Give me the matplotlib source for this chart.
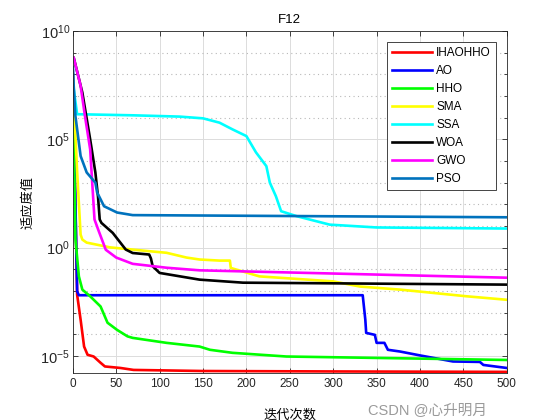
import numpy as np
import matplotlib
matplotlib.use('Agg')
import matplotlib.pyplot as plt
from matplotlib.ticker import FixedLocator, NullFormatter

plt.rcParams['font.family'] = ['Liberation Sans', 'Noto Sans CJK SC', 'DejaVu Sans']
plt.rcParams['mathtext.fontset'] = 'custom'
plt.rcParams['mathtext.rm'] = 'Liberation Sans'
plt.rcParams['mathtext.it'] = 'Liberation Sans'

# 各算法收敛曲线 (迭代次数, log10 适应度值)
names = ['IHAOHHO', 'AO', 'HHO', 'SMA', 'SSA', 'WOA', 'GWO', 'PSO']
colors = ['#ff0000', '#0000ff', '#00ff00', '#ffff00', '#00ffff', '#000000', '#ff00ff', '#0072bd']

ihaohho_it = [0, 5, 9, 13, 17, 24, 32, 37, 55, 70, 150, 300, 500]
ihaohho_lg = [8.0, -2.18, -3.33, -4.57, -4.95, -5.03, -5.32, -5.49, -5.56, -5.65, -5.70, -5.72, -5.74]

ao_it = [0, 5, 7, 334, 337, 338, 348, 350, 359, 363, 377, 400, 438, 469, 473, 500]
ao_lg = [8.3, -2.02, -2.2, -2.2, -3.33, -3.94, -4.03, -4.4, -4.4, -4.72, -4.8, -4.98, -5.26, -5.28, -5.42, -5.56]

hho_it = [0, 3, 7, 11, 20, 32, 40, 51, 63, 69, 108, 146, 158, 184, 246, 500]
hho_lg = [8.0, 0.4, -1.33, -1.94, -2.25, -2.72, -3.47, -3.8, -4.1, -4.17, -4.4, -4.57, -4.72, -4.86, -5.03, -5.19]

sma_it = [0, 5, 9, 11, 16, 43, 89, 108, 131, 146, 169, 181, 182, 215, 300, 331, 377, 454, 500]
sma_lg = [7.8, 3.5, 0.6, 0.37, 0.23, 0.01, -0.17, -0.24, -0.46, -0.55, -0.6, -0.6, -0.94, -1.33, -1.56, -1.8, -1.94, -2.25, -2.41]

ssa_it = [0, 5, 69, 123, 150, 169, 184, 200, 211, 223, 227, 234, 240, 258, 296, 350, 500]
ssa_lg = [7.64, 6.16, 6.11, 6.05, 5.97, 5.77, 5.46, 5.15, 4.4, 3.76, 3.0, 2.37, 1.68, 1.45, 1.06, 0.93, 0.88]

woa_it = [0, 1, 11, 20, 26, 29, 31, 33, 46, 61, 69, 88, 90, 92, 100, 146, 196, 500]
woa_lg = [8.78, 8.78, 7.16, 5.0, 3.47, 2.37, 1.30, 1.14, 0.68, -0.09, -0.25, -0.32, -0.5, -0.86, -1.17, -1.48, -1.62, -1.71]

gwo_it = [0, 1, 9, 14, 20, 25, 30, 38, 50, 69, 108, 146, 500]
gwo_lg = [8.78, 8.78, 7.47, 6.08, 4.54, 1.3, 0.75, -0.1, -0.46, -0.75, -0.93, -1.05, -1.39]

pso_it = [0, 1, 3, 9, 16, 26, 28, 36, 51, 69, 500]
pso_lg = [8.33, 7.5, 6.08, 4.23, 3.47, 3.0, 2.55, 1.91, 1.62, 1.5, 1.40]

curves = [(ihaohho_it, ihaohho_lg), (ao_it, ao_lg), (hho_it, hho_lg), (sma_it, sma_lg),
          (ssa_it, ssa_lg), (woa_it, woa_lg), (gwo_it, gwo_lg), (pso_it, pso_lg)]

fig = plt.figure(figsize=(5.6, 4.2), dpi=100)
ax = fig.add_axes([0.130, 0.112, 0.775, 0.814])

for (it, lg), name, c in zip(curves, names, colors):
    ax.semilogy(it, 10.0 ** np.array(lg), color=c, lw=1.9, label=name)

ax.set_xlim(0, 500)
ax.set_ylim(10 ** -5.79, 1e10)
ax.set_xticks(np.arange(0, 501, 50))
ax.yaxis.set_major_locator(FixedLocator([1e-5, 1e0, 1e5, 1e10]))
ax.set_yticklabels(['$10^{-5}$', '$10^{0}$', '$10^{5}$', '$10^{10}$'])
ax.yaxis.set_minor_locator(FixedLocator([10.0 ** k for k in range(-5, 10) if k % 5 != 0]))
ax.yaxis.set_minor_formatter(NullFormatter())

ax.grid(True, which='major', color='#dcdcdc', lw=0.7, ls='-')
ax.grid(True, which='minor', axis='y', color='#b8b8b8', lw=0.8, ls=(0, (1, 3)))
ax.set_axisbelow(True)
ax.tick_params(which='both', direction='in', top=True, right=True, labelsize=8.5,
               colors='#262626', width=0.6)
ax.tick_params(axis='y', which='major', labelsize=10.5, pad=2)
ax.tick_params(which='major', length=3.5)
ax.tick_params(which='minor', length=2.5)
for s in ax.spines.values():
    s.set_color('#262626')
    s.set_linewidth(0.6)

ax.set_title('F12', fontsize=9.5, pad=6)
ax.set_xlabel('迭代次数', fontsize=9.5)
ax.set_ylabel('适应度值', fontsize=9.5)
ax.xaxis.set_label_coords(0.5, -0.105)
ax.yaxis.set_label_coords(-0.088, 0.5)

leg = ax.legend(loc='upper right', bbox_to_anchor=(0.975, 0.968), borderaxespad=0,
                fontsize=8.5, handlelength=3.4, labelspacing=0.5, handletextpad=0.3,
                fancybox=False, framealpha=1, borderpad=0.45)
leg.get_frame().set_edgecolor('#262626')
leg.get_frame().set_linewidth(0.6)

fig.text(0.657, 0.021, 'CSDN @心\ufe0f升明月', fontsize=10.5, color='#9a9a9a',
         ha='left', va='center')

fig.savefig('out.png', dpi=100)
